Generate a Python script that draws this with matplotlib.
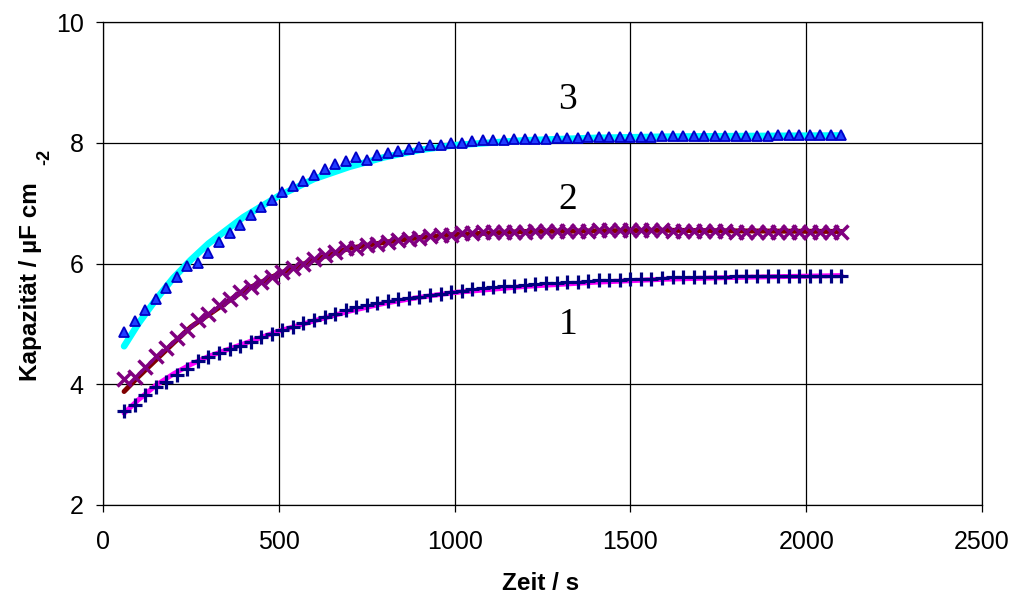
import matplotlib
matplotlib.use("Agg")
import matplotlib.pyplot as plt

# ---- data ----
times = [60, 90, 120, 150, 180, 210, 240, 270, 300, 330,
         360, 390, 420, 450, 480, 510, 540, 570, 600, 630,
         660, 690, 720, 750, 780, 810, 840, 870, 900, 930,
         960, 990, 1020, 1050, 1080, 1110, 1140, 1170, 1200, 1230,
         1260, 1290, 1320, 1350, 1380, 1410, 1440, 1470, 1500, 1530,
         1560, 1590, 1620, 1650, 1680, 1710, 1740, 1770, 1800, 1830,
         1860, 1890, 1920, 1950, 1980, 2010, 2040, 2070, 2100]

series3 = [4.86, 5.05, 5.23, 5.42, 5.60, 5.78, 5.96, 6.01, 6.18, 6.35,
           6.50, 6.64, 6.80, 6.94, 7.06, 7.18, 7.29, 7.37, 7.47, 7.56,
           7.65, 7.70, 7.76, 7.72, 7.79, 7.83, 7.87, 7.90, 7.93, 7.96,
           7.97, 7.99, 8.00, 8.03, 8.04, 8.05, 8.05, 8.06, 8.06, 8.07,
           8.07, 8.08, 8.08, 8.08, 8.09, 8.09, 8.09, 8.10, 8.10, 8.10,
           8.10, 8.11, 8.11, 8.11, 8.11, 8.11, 8.12, 8.12, 8.12, 8.12,
           8.12, 8.12, 8.13, 8.13, 8.13, 8.13, 8.13, 8.13, 8.13]

series2 = [4.08, 4.12, 4.28, 4.46, 4.60, 4.76, 4.90, 5.06, 5.17, 5.31,
           5.42, 5.52, 5.61, 5.70, 5.78, 5.86, 5.93, 6.00, 6.08, 6.14,
           6.19, 6.25, 6.26, 6.30, 6.33, 6.36, 6.39, 6.41, 6.43, 6.45,
           6.47, 6.48, 6.50, 6.51, 6.52, 6.52, 6.53, 6.53, 6.53, 6.54,
           6.54, 6.54, 6.54, 6.54, 6.54, 6.55, 6.55, 6.55, 6.55, 6.55,
           6.55, 6.55, 6.54, 6.54, 6.54, 6.54, 6.54, 6.54, 6.53, 6.53,
           6.53, 6.53, 6.53, 6.53, 6.53, 6.52, 6.52, 6.52, 6.52]

series1 = [3.55, 3.66, 3.82, 3.96, 4.04, 4.15, 4.26, 4.38, 4.45, 4.51,
           4.58, 4.63, 4.70, 4.78, 4.84, 4.90, 4.95, 5.01, 5.07, 5.12,
           5.17, 5.23, 5.28, 5.32, 5.35, 5.38, 5.41, 5.43, 5.45, 5.48,
           5.50, 5.53, 5.55, 5.58, 5.60, 5.61, 5.62, 5.63, 5.64, 5.66,
           5.67, 5.68, 5.69, 5.70, 5.71, 5.72, 5.72, 5.73, 5.74, 5.75,
           5.75, 5.76, 5.77, 5.77, 5.77, 5.78, 5.78, 5.78, 5.79, 5.79,
           5.79, 5.79, 5.80, 5.80, 5.80, 5.80, 5.80, 5.80, 5.80]

fit_times = [60, 100, 150, 200, 250, 300, 400, 500, 600, 700,
             800, 900, 1000, 1200, 1400, 1600, 1800, 2100]
fit3 = [4.63, 5.00, 5.40, 5.76, 6.06, 6.33, 6.77, 7.12, 7.40, 7.60,
        7.76, 7.88, 7.96, 8.04, 8.08, 8.10, 8.11, 8.12]
fit2 = [3.88, 4.12, 4.40, 4.68, 4.95, 5.15, 5.55, 5.83, 6.06, 6.25,
        6.35, 6.43, 6.48, 6.53, 6.54, 6.55, 6.54, 6.53]
fit1 = [3.52, 3.74, 3.98, 4.17, 4.33, 4.46, 4.67, 4.88, 5.05, 5.21,
        5.34, 5.44, 5.52, 5.62, 5.69, 5.74, 5.77, 5.80]

curve_labels = ["1", "2", "3"]
label_pos = [(1322, 4.98), (1322, 7.05), (1322, 8.72)]

x_ticks = [0, 500, 1000, 1500, 2000, 2500]
y_ticks = [2, 4, 6, 8, 10]

# ---- figure ----
plt.rcParams['font.family'] = ['Liberation Sans', 'DejaVu Sans']
fig = plt.figure(figsize=(10.15, 5.96), dpi=100)
ax = fig.add_axes([103 / 1015, 1 - 505 / 596, 879 / 1015, 483 / 596])

ax.set_xlim(0, 2500)
ax.set_ylim(2, 10)
ax.set_xticks(x_ticks)
ax.set_yticks(y_ticks)
ax.grid(True, color='black', linewidth=0.9)
ax.set_axisbelow(True)
for s in ax.spines.values():
    s.set_color('black')
    s.set_linewidth(0.9)
ax.tick_params(axis='both', direction='out', length=5, width=0.9,
               labelsize=18, colors='black')
ax.tick_params(axis='x', pad=13)
ax.tick_params(axis='y', pad=9)

# fits (under markers)
ax.plot(fit_times, fit3, color='#00FFFF', linewidth=4.8, solid_capstyle='round', zorder=2)
ax.plot(fit_times, fit2, color='#800000', linewidth=3.6, solid_capstyle='round', zorder=2)
ax.plot(fit_times, fit1, color='#FF00FF', linewidth=3.6, solid_capstyle='round', zorder=2)

# data markers
ax.plot(times, series3, linestyle='none', marker='^', markersize=7,
        markerfacecolor='#1f3cff', markeredgecolor='#0000c8', markeredgewidth=1.3, zorder=3)
ax.plot(times, series2, linestyle='none', marker='x', markersize=10,
        color='#800080', markeredgewidth=2.5, zorder=3)
ax.plot(times, series1, linestyle='none', marker='+', markersize=10.5,
        color='#000080', markeredgewidth=2.3, zorder=3)

for lab, (xp, yp) in zip(curve_labels, label_pos):
    ax.text(xp, yp, lab, fontsize=27, family=['Liberation Serif', 'DejaVu Serif'],
            ha='center', va='center', color='black', zorder=4)

fig.text(541 / 1015, 1 - 583 / 596, 'Zeit / s', fontsize=17.5,
         fontweight='bold', ha='center', va='center')
fig.text(31 / 1015, 1 - 282 / 596, 'Kapazität / µF cm', rotation=90,
         fontsize=17.5, fontweight='bold', ha='center', va='center')
fig.text(45 / 1015, 1 - 157 / 596, '-2', rotation=90,
         fontsize=13, fontweight='bold', ha='center', va='center')

fig.savefig('out.png', dpi=100)
